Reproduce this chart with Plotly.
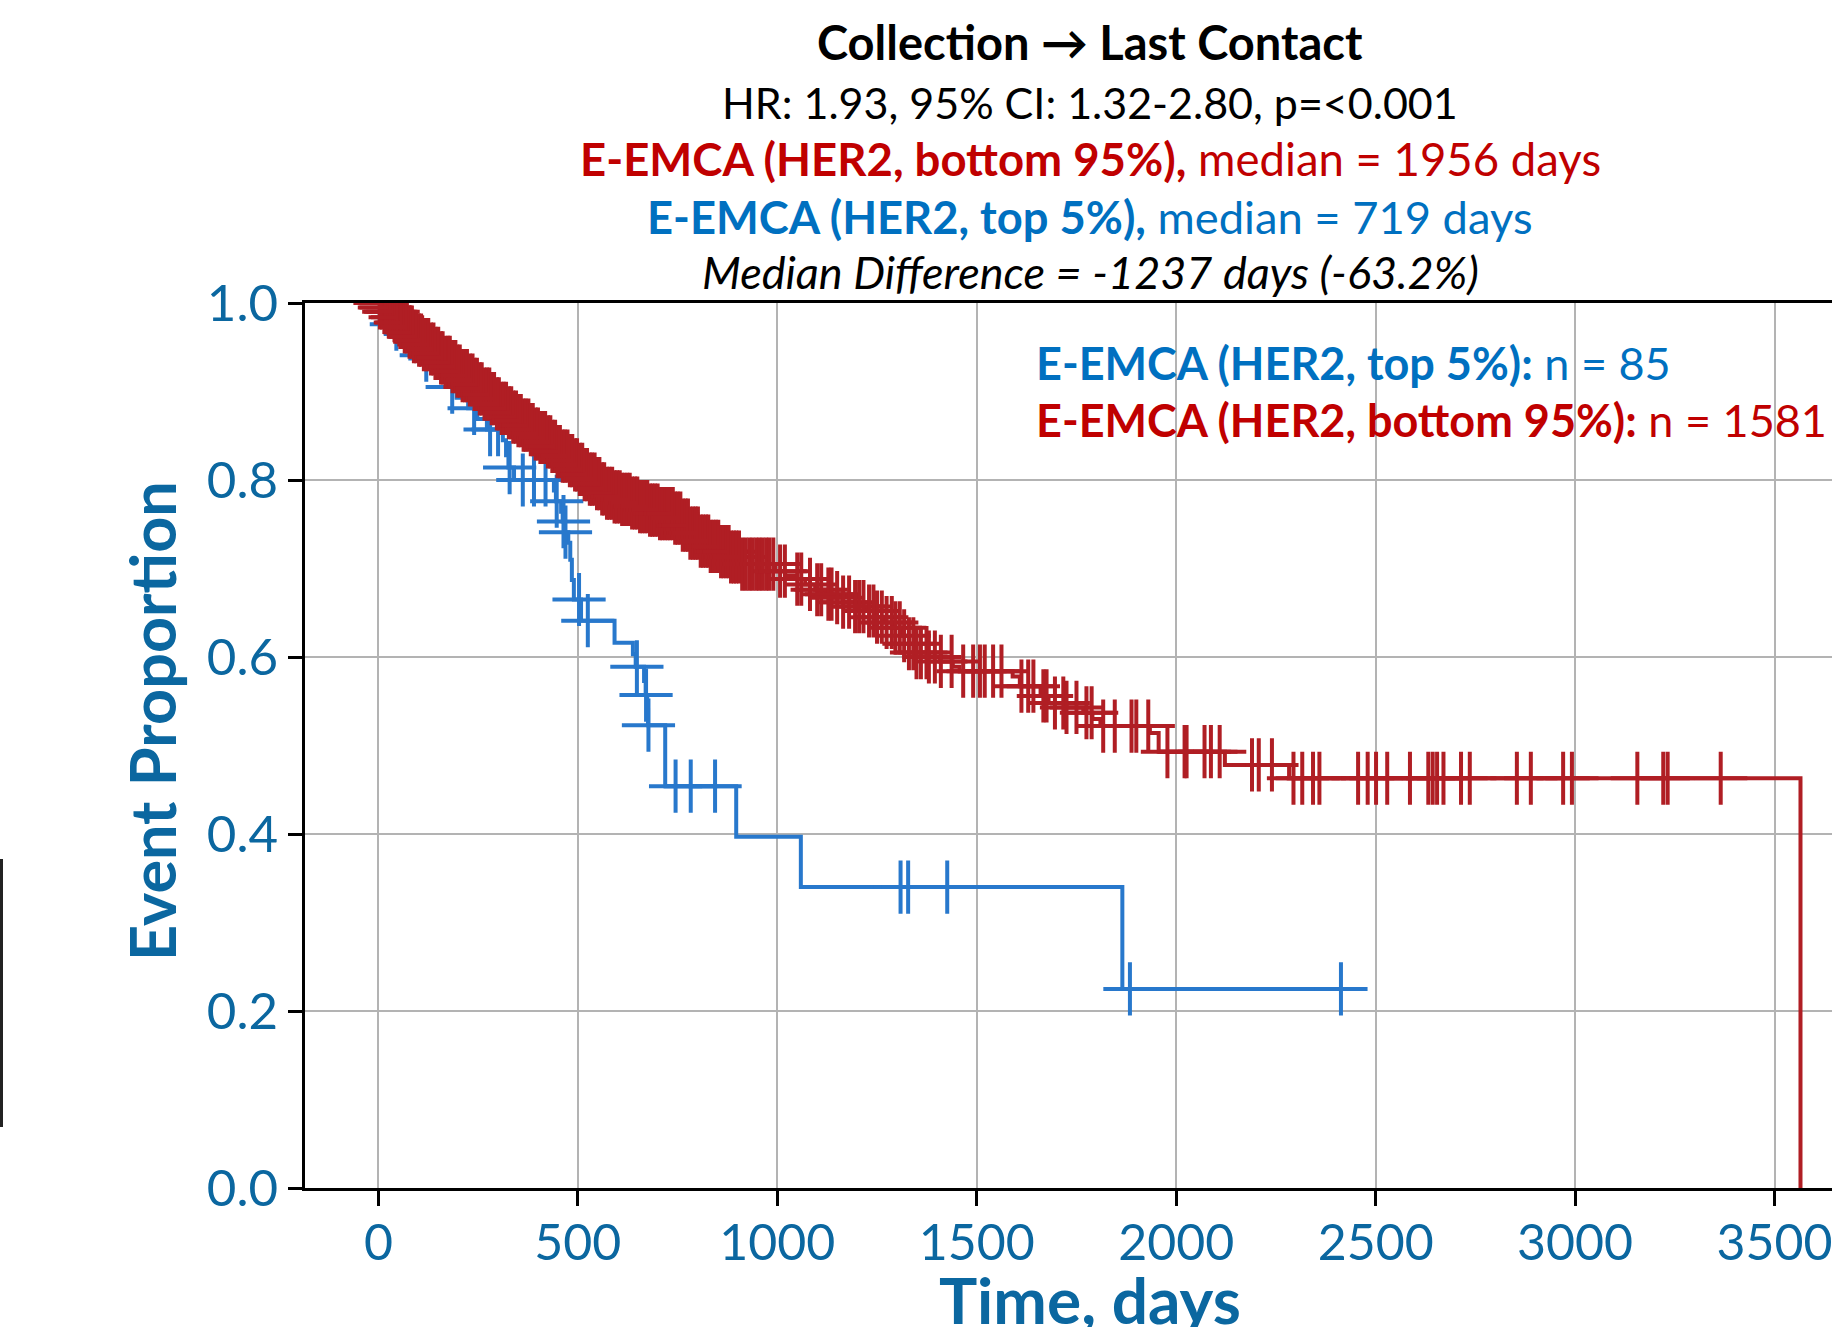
import plotly.graph_objects as go

# ---------------- data ----------------
x_tick_vals = [0, 500, 1000, 1500, 2000, 2500, 3000, 3500]
x_tick_labels = ["0", "500", "1000", "1500", "2000", "2500", "3000", "3500"]
y_tick_vals = [0.0, 0.2, 0.4, 0.6, 0.8, 1.0]
y_tick_labels = ["0.0", "0.2", "0.4", "0.6", "0.8", "1.0"]

# E-EMCA (HER2, top 5%), n = 85 : Kaplan-Meier step knots
blue_event_days = [0, 18, 40, 62, 85, 110, 135, 160, 180, 196, 225, 248, 272, 312, 320, 326,
                   340, 440, 445, 458, 462, 467, 476, 481, 485, 490, 508, 592, 638, 645, 666,
                   670, 674, 676, 719, 897, 1059, 1865]
blue_surv = [1.0, 0.988, 0.976, 0.965, 0.953, 0.941, 0.929, 0.917, 0.905, 0.893, 0.881, 0.869,
             0.857, 0.845, 0.828, 0.814, 0.800, 0.788, 0.776, 0.764, 0.753, 0.741, 0.729, 0.710,
             0.687, 0.665, 0.641, 0.616, 0.603, 0.589, 0.573, 0.557, 0.540, 0.523, 0.454, 0.397,
             0.340, 0.225]
blue_last_day = 2413
blue_censor_days = [45, 80, 120, 185, 240, 280, 300, 329, 362, 390, 419, 447, 464, 469, 503, 525,
                    648, 671, 677, 745, 783, 844, 1309, 1328, 1426, 1884, 2413]

# E-EMCA (HER2, bottom 95%), n = 1581 : Kaplan-Meier step knots
red_event_days = [0, 12, 25, 38, 50, 62, 75, 88, 100, 113, 126, 140, 154, 168, 182, 196, 210, 224,
                  238, 252, 266, 280, 294, 308, 321, 335, 350, 364, 378, 392, 405, 419, 433, 447,
                  461, 475, 488, 502, 516, 530, 544, 558, 572, 590, 610, 632, 656, 680, 705, 739,
                  760, 782, 806, 830, 855, 880, 906, 995, 1020, 1045, 1070, 1095, 1120, 1140, 1165,
                  1195, 1224, 1250, 1270, 1290, 1310, 1330, 1349, 1380, 1408, 1440, 1457, 1590,
                  1608, 1660, 1680, 1725, 1767, 1790, 1810, 1934, 1956, 2122, 2283, 3565]
red_surv = [1.0, 0.995, 0.990, 0.984, 0.978, 0.973, 0.967, 0.962, 0.958, 0.953, 0.948, 0.943,
            0.938, 0.933, 0.928, 0.923, 0.918, 0.913, 0.908, 0.903, 0.897, 0.892, 0.886, 0.881,
            0.876, 0.871, 0.867, 0.862, 0.857, 0.852, 0.848, 0.843, 0.838, 0.832, 0.827, 0.822,
            0.817, 0.812, 0.806, 0.801, 0.796, 0.790, 0.785, 0.781, 0.778, 0.774, 0.770, 0.766,
            0.762, 0.757, 0.749, 0.740, 0.731, 0.725, 0.719, 0.713, 0.705, 0.697, 0.692, 0.688,
            0.682, 0.676, 0.671, 0.667, 0.662, 0.657, 0.652, 0.645, 0.639, 0.633, 0.624, 0.615,
            0.605, 0.600, 0.595, 0.589, 0.584, 0.578, 0.567, 0.556, 0.548, 0.543, 0.537, 0.530,
            0.522, 0.514, 0.493, 0.478, 0.463, 0.0]
red_censor_days = [4, 9, 15, 19, 26, 31, 37, 42, 48, 55, 59, 66, 71, 78, 84, 89, 95, 102, 107, 114,
                   120, 125, 132, 138, 143, 150, 157, 161, 168, 175, 179, 186, 193, 198, 204, 211,
                   217, 222, 229, 236, 241, 247, 254, 259, 266, 272, 278, 284, 290, 297, 302, 309,
                   314, 320, 327, 333, 338, 345, 351, 357, 364, 369, 376, 382, 387, 394, 400, 406,
                   413, 418, 425, 431, 436, 443, 449, 455, 462, 467, 474, 480, 486, 493, 498, 505,
                   511, 517, 523, 530, 535, 542, 548, 554, 561, 566, 573, 579, 586, 592, 598, 605,
                   611, 617, 624, 630, 636, 643, 649, 656, 662, 668, 674, 681, 687, 693, 700, 706,
                   712, 719, 725, 731, 738, 744, 750, 757, 763, 770, 776, 782, 789, 795, 801, 808,
                   814, 821, 827, 833, 840, 846, 852, 859, 865, 872, 878, 884, 891, 897, 904, 912,
                   921, 930, 938, 947, 955, 963, 972, 980, 990, 1007, 1019, 1050, 1060, 1082, 1100,
                   1110, 1128, 1136, 1150, 1165, 1180, 1195, 1205, 1216, 1230, 1241, 1250, 1262,
                   1274, 1287, 1296, 1307, 1318, 1330, 1341, 1349, 1360, 1374, 1380, 1395, 1410,
                   1437, 1466, 1491, 1508, 1520, 1541, 1562, 1612, 1629, 1642, 1667, 1675, 1696,
                   1717, 1725, 1750, 1775, 1788, 1817, 1846, 1888, 1900, 1930, 1978, 2021, 2026,
                   2071, 2087, 2109, 2190, 2207, 2240, 2294, 2316, 2343, 2359, 2456, 2480, 2501,
                   2529, 2586, 2632, 2643, 2654, 2670, 2714, 2736, 2854, 2889, 2970, 2992, 3156,
                   3221, 3232, 3365]

title_lines = [
    ("<b>Collection \u2192 Last Contact</b>", "black"),
    ("HR: 1.93, 95% CI: 1.32-2.80, p=<0.001", "black"),
    ("<b>E-EMCA (HER2, bottom 95%),</b> median = 1956 days", "red"),
    ("<b>E-EMCA (HER2, top 5%),</b> median = 719 days", "blue"),
    ("<i>Median Difference = -1237 days (-63.2%)</i>", "black"),
]
legend_lines = [
    ("<b>E-EMCA (HER2, top 5%):</b> n = 85", "blue"),
    ("<b>E-EMCA (HER2, bottom 95%):</b> n = 1581", "red"),
]

# ---------------- styling ----------------
FONT = "Lato"
LINE_BLUE = "#2878CC"
LINE_RED = "#B01E24"
TEXT_COL = {"black": "#000000", "red": "#C00000", "blue": "#0070C0"}
AXIS_BLUE = "#0B67A0"
GRID = "#B3B3B3"

W, H = 1832, 1327
ML, MR, MT, MB = 305, 0, 303, 139
PW, PH = W - ML - MR, H - MT - MB


def xp(px):
    return (px - ML) / PW


def yp(py):
    return (H - MB - py) / PH


def km_at(days, surv, t):
    val = surv[0]
    for d, s in zip(days, surv):
        if d <= t:
            val = s
        else:
            break
    return val


CROSS = 38
LW = 4

fig = go.Figure()

# blue group
fig.add_trace(go.Scatter(
    x=blue_event_days + [blue_last_day], y=blue_surv + [blue_surv[-1]],
    mode="lines", line=dict(color=LINE_BLUE, width=LW, shape="hv"), hoverinfo="skip"))
fig.add_trace(go.Scatter(
    x=blue_censor_days, y=[km_at(blue_event_days, blue_surv, t) for t in blue_censor_days],
    mode="markers", marker=dict(symbol="cross-thin", size=CROSS, color=LINE_BLUE,
                                line=dict(color=LINE_BLUE, width=LW)), hoverinfo="skip"))
# red group
fig.add_trace(go.Scatter(
    x=red_event_days, y=red_surv,
    mode="lines", line=dict(color=LINE_RED, width=LW, shape="hv"), hoverinfo="skip"))
fig.add_trace(go.Scatter(
    x=red_censor_days, y=[km_at(red_event_days, red_surv, t) for t in red_censor_days],
    mode="markers", marker=dict(symbol="cross-thin", size=CROSS, color=LINE_RED,
                                line=dict(color=LINE_RED, width=LW)), hoverinfo="skip"))

annotations = []
title_y = [42, 102, 158, 216.5, 272]
title_sizes = [47, 43, 45.5, 45.3, 45]
for (txt, col), ty, fs in zip(title_lines, title_y, title_sizes):
    annotations.append(dict(text=txt, x=xp(1090), y=yp(ty), xref="paper", yref="paper",
                            xanchor="center", yanchor="middle", showarrow=False,
                            font=dict(family=FONT, size=fs, color=TEXT_COL[col])))
for (txt, col), ty in zip(legend_lines, [363, 420]):
    annotations.append(dict(text=txt, x=xp(1034), y=yp(ty), xref="paper", yref="paper",
                            xanchor="left", yanchor="middle", showarrow=False,
                            font=dict(family=FONT, size=45, color=TEXT_COL[col])))
annotations.append(dict(text="<b>Time, days</b>", x=xp(1090), y=yp(1299), xref="paper",
                        yref="paper", xanchor="center", yanchor="middle", showarrow=False,
                        font=dict(family=FONT, size=64, color=AXIS_BLUE)))
annotations.append(dict(text="<b>Event Proportion</b>", x=xp(151), y=yp(721), xref="paper",
                        yref="paper", xanchor="center", yanchor="middle", showarrow=False,
                        textangle=-90, font=dict(family=FONT, size=63, color=AXIS_BLUE)))

shapes = [
    dict(type="rect", xref="paper", yref="paper", x0=xp(1015), x1=xp(1850), y0=yp(467),
         y1=yp(314), fillcolor="white", line=dict(width=0), layer="between"),
    dict(type="line", xref="paper", yref="paper", x0=xp(1.5), x1=xp(1.5), y0=yp(1127),
         y1=yp(859), line=dict(color="#222222", width=3)),
]

fig.update_layout(
    width=W, height=H, margin=dict(l=ML, r=MR, t=MT, b=MB, pad=0, autoexpand=False),
    paper_bgcolor="white", plot_bgcolor="white", showlegend=False,
    annotations=annotations, shapes=shapes,
    xaxis=dict(range=[-184, 3644], tickvals=x_tick_vals, ticktext=x_tick_labels,
               ticks="outside", ticklen=15, tickwidth=2.5, tickcolor="black",
               showline=True, linecolor="black", linewidth=2.5, mirror=True,
               showgrid=True, gridcolor=GRID, gridwidth=2, zeroline=False,
               automargin=False, ticklabelstandoff=-6, ticklabeloverflow="allow",
               tickfont=dict(family=FONT, size=50, color=AXIS_BLUE)),
    yaxis=dict(range=[0, 1], tickvals=y_tick_vals, ticktext=y_tick_labels,
               ticks="outside", ticklen=14, tickwidth=2.5, tickcolor="black",
               showline=True, linecolor="black", linewidth=2.5, mirror=False,
               showgrid=True, gridcolor=GRID, gridwidth=2, zeroline=False,
               automargin=False,
               tickfont=dict(family=FONT, size=51, color=AXIS_BLUE)),
)

fig.write_html("out.html", config={"displayModeBar": False},
               post_script="document.body.style.margin='0px';")
